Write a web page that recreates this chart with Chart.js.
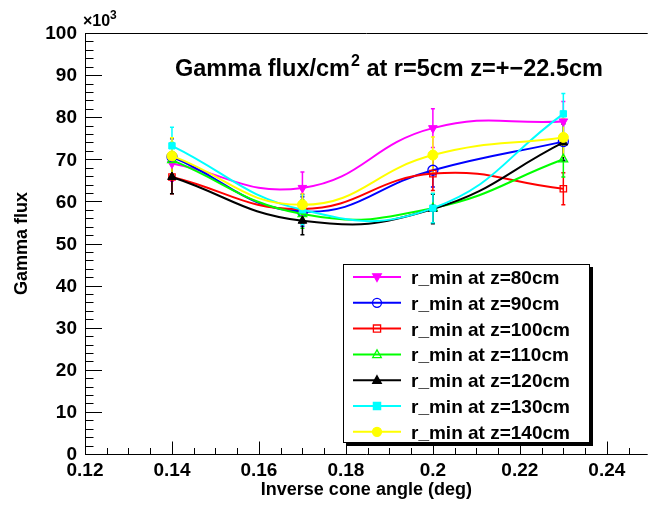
<!DOCTYPE html>
<html>
<head>
<meta charset="utf-8">
<script src="https://cdn.jsdelivr.net/npm/chart.js@4.4.1/dist/chart.umd.min.js"></script>
<style>
  html, body { margin: 0; padding: 0; background: #fff; }
  canvas { display: block; }
</style>
</head>
<body>
<canvas id="c" width="654" height="510"></canvas>
<script>
// inverse cone angle (deg)
const angles = [0.14, 0.17, 0.2, 0.23];

const seriesNames = [
  'r_min at z=80cm', 'r_min at z=90cm', 'r_min at z=100cm', 'r_min at z=110cm',
  'r_min at z=120cm', 'r_min at z=130cm', 'r_min at z=140cm'
];

// gamma flux, x10^3
const flux80  = [69.0, 63.2, 77.4, 79.0];
const flux90  = [70.6, 57.6, 67.4, 74.2];
const flux100 = [65.8, 58.2, 66.6, 63.0];
const flux110 = [69.8, 57.0, 58.4, 70.0];
const flux120 = [65.8, 55.4, 58.2, 74.0];
const flux130 = [73.2, 58.0, 58.4, 80.8];
const flux140 = [70.8, 59.2, 71.0, 75.2];

// error bars (+/-)
const err80  = [4.2, 3.8, 4.6, 4.7];
const err90  = [4.3, 3.5, 4.0, 4.4];
const err100 = [4.0, 3.5, 4.0, 3.8];
const err110 = [4.2, 3.4, 3.5, 4.2];
const err120 = [4.0, 3.3, 3.5, 4.4];
const err130 = [4.4, 3.5, 3.5, 4.8];
const err140 = [4.3, 3.6, 4.3, 4.5];

const yTicks = [0, 10, 20, 30, 40, 50, 60, 70, 80, 90, 100];
const xTicks = [0.12, 0.14, 0.16, 0.18, 0.2, 0.22, 0.24];
const xTickLabels = ['0.12', '0.14', '0.16', '0.18', '0.2', '0.22', '0.24'];

const allFlux = [flux80, flux90, flux100, flux110, flux120, flux130, flux140];
const allErr = [err80, err90, err100, err110, err120, err130, err140];
const colors = ['#ff00ff', '#0000ff', '#ff0000', '#00ff00', '#000000', '#00ffff', '#ffff00'];
// marker: [style, filled, rotation]
const markers = [
  ['triangle', true, 180], ['circle', false, 0], ['rect', false, 0], ['triangle', false, 0],
  ['triangle', true, 0], ['rect', true, 0], ['circle', true, 0]
];

const FONT = '"Liberation Sans", Arial, Helvetica, sans-serif';

const datasets = allFlux.map((f, i) => ({
  label: seriesNames[i],
  data: angles.map((a, k) => ({ x: a, y: f[k] })),
  borderColor: colors[i],
  borderWidth: 2,
  tension: 0.45,
  fill: false,
  pointStyle: markers[i][0],
  pointRotation: markers[i][2],
  pointRadius: markers[i][0] === 'rect' ? 4.5 : 5,
  pointBorderWidth: markers[i][1] ? 1 : 1.3,
  pointBorderColor: colors[i],
  pointBackgroundColor: markers[i][1] ? colors[i] : 'rgba(0,0,0,0)',
  order: 7 - i
}));

function drawMarker(ctx, style, filled, rot, x, y, r, color) {
  ctx.save();
  ctx.translate(x, y);
  ctx.rotate(rot * Math.PI / 180);
  ctx.beginPath();
  if (style === 'circle') {
    ctx.arc(0, 0, r, 0, Math.PI * 2);
  } else if (style === 'rect') {
    ctx.rect(-r * 0.8, -r * 0.8, r * 1.6, r * 1.6);
  } else {
    ctx.moveTo(0, -r);
    ctx.lineTo(r * 0.95, r * 0.7);
    ctx.lineTo(-r * 0.95, r * 0.7);
    ctx.closePath();
  }
  ctx.lineWidth = 1.3;
  ctx.strokeStyle = color;
  if (filled) { ctx.fillStyle = color; ctx.fill(); }
  ctx.stroke();
  ctx.restore();
}

const decor = {
  id: 'decor',
  beforeDatasetsDraw(chart) {
    const { ctx, scales: { x, y } } = chart;
    ctx.save();
    ctx.lineWidth = 1.5;
    allErr.forEach((e, i) => {
      ctx.strokeStyle = colors[i];
      angles.forEach((a, k) => {
        const px = x.getPixelForValue(a);
        const top = y.getPixelForValue(allFlux[i][k] + e[k]);
        const bot = y.getPixelForValue(allFlux[i][k] - e[k]);
        ctx.beginPath();
        ctx.moveTo(px, top); ctx.lineTo(px, bot);
        ctx.moveTo(px - 2, top); ctx.lineTo(px + 2, top);
        ctx.moveTo(px - 2, bot); ctx.lineTo(px + 2, bot);
        ctx.stroke();
      });
    });
    ctx.restore();
  },
  afterDraw(chart) {
    const { ctx, chartArea: a, scales: { x, y } } = chart;
    ctx.save();
    ctx.strokeStyle = '#000';
    ctx.lineWidth = 1;
    // frame: top, left, bottom
    ctx.beginPath();
    ctx.moveTo(a.left + 0.5, a.bottom + 0.5); ctx.lineTo(a.left + 0.5, a.top + 0.5); ctx.lineTo(a.right, a.top + 0.5);
    ctx.moveTo(a.left, a.bottom + 0.5); ctx.lineTo(a.right, a.bottom + 0.5);
    // y ticks (inward)
    for (let v = 0; v <= 100.001; v += 2) {
      const py = Math.round(y.getPixelForValue(v)) + 0.5;
      const len = (Math.round(v) % 10 === 0) ? 17 : 8.5;
      ctx.moveTo(a.left, py); ctx.lineTo(a.left + len, py);
    }
    // x ticks (inward)
    for (let v = 0.12; v <= x.max + 1e-9; v += 0.005) {
      const px = Math.round(x.getPixelForValue(v)) + 0.5;
      const major = Math.abs(Math.round(v * 50) - v * 50) < 1e-6;
      const len = major ? 12.5 : 6;
      ctx.moveTo(px, a.bottom); ctx.lineTo(px, a.bottom - len);
    }
    ctx.stroke();

    ctx.fillStyle = '#000';
    // tick labels
    ctx.font = 'bold 19px ' + FONT;
    ctx.textAlign = 'right';
    ctx.textBaseline = 'middle';
    yTicks.forEach(v => ctx.fillText(String(v), a.left - 8, y.getPixelForValue(v) + 1));
    ctx.textAlign = 'center';
    ctx.textBaseline = 'alphabetic';
    xTicks.forEach((v, i) => ctx.fillText(xTickLabels[i], x.getPixelForValue(v), a.bottom + 22));

    // x10^3
    ctx.textAlign = 'left';
    ctx.font = 'bold 16px ' + FONT;
    ctx.fillText('\u00d710', 83, 26);
    ctx.font = 'bold 12px ' + FONT;
    ctx.fillText('3', 110, 19);

    // title
    ctx.font = 'bold 23.5px ' + FONT;
    const t1 = 'Gamma flux/cm';
    ctx.fillText(t1, 175, 76);
    const w = ctx.measureText(t1).width;
    ctx.font = 'bold 16px ' + FONT;
    ctx.fillText('2', 175 + w + 1, 66);
    const w2 = ctx.measureText('2').width;
    ctx.font = 'bold 23.5px ' + FONT;
    ctx.fillText(' at r=5cm z=+\u221222.5cm', 175 + w + w2 + 1, 76);

    // axis titles
    ctx.font = 'bold 18px ' + FONT;
    ctx.textAlign = 'center';
    ctx.fillText('Inverse cone angle (deg)', (a.left + a.right) / 2, 495);
    ctx.save();
    ctx.translate(27, (a.top + a.bottom) / 2);
    ctx.rotate(-Math.PI / 2);
    ctx.fillText('Gamma flux', 0, 0);
    ctx.restore();

    // legend
    const L = 343, T = 264, R = 590, B = 443;
    ctx.fillStyle = '#000';
    ctx.fillRect(L + 3, B, R - L, 3);
    ctx.fillRect(R, T + 3, 3, B - T);
    ctx.fillStyle = '#fff';
    ctx.fillRect(L, T, R - L, B - T);
    ctx.strokeStyle = '#000';
    ctx.lineWidth = 1;
    ctx.strokeRect(L + 0.5, T + 0.5, R - L - 1, B - T - 1);
    ctx.font = 'bold 19px ' + FONT;
    ctx.textAlign = 'left';
    ctx.textBaseline = 'alphabetic';
    seriesNames.forEach((name, i) => {
      const cy = 277 + i * 25.8;
      ctx.strokeStyle = colors[i];
      ctx.lineWidth = 2;
      ctx.beginPath();
      ctx.moveTo(353, cy); ctx.lineTo(401, cy);
      ctx.stroke();
      drawMarker(ctx, markers[i][0], markers[i][1], markers[i][2], 377, cy, 4.5, colors[i]);
      ctx.fillStyle = '#000';
      ctx.fillText(name, 411, cy + 7);
    });
    ctx.restore();
  }
};

new Chart(document.getElementById('c'), {
  type: 'line',
  data: { datasets },
  options: {
    responsive: false,
    animation: false,
    layout: { padding: { top: 33, right: 0, left: 85, bottom: 56 } },
    plugins: { legend: { display: false }, tooltip: { enabled: false }, title: { display: false } },
    scales: {
      x: { type: 'linear', display: false, min: 0.12, max: 0.2494 },
      y: { type: 'linear', display: false, min: 0, max: 100 }
    }
  },
  plugins: [decor]
});
</script>
</body>
</html>
